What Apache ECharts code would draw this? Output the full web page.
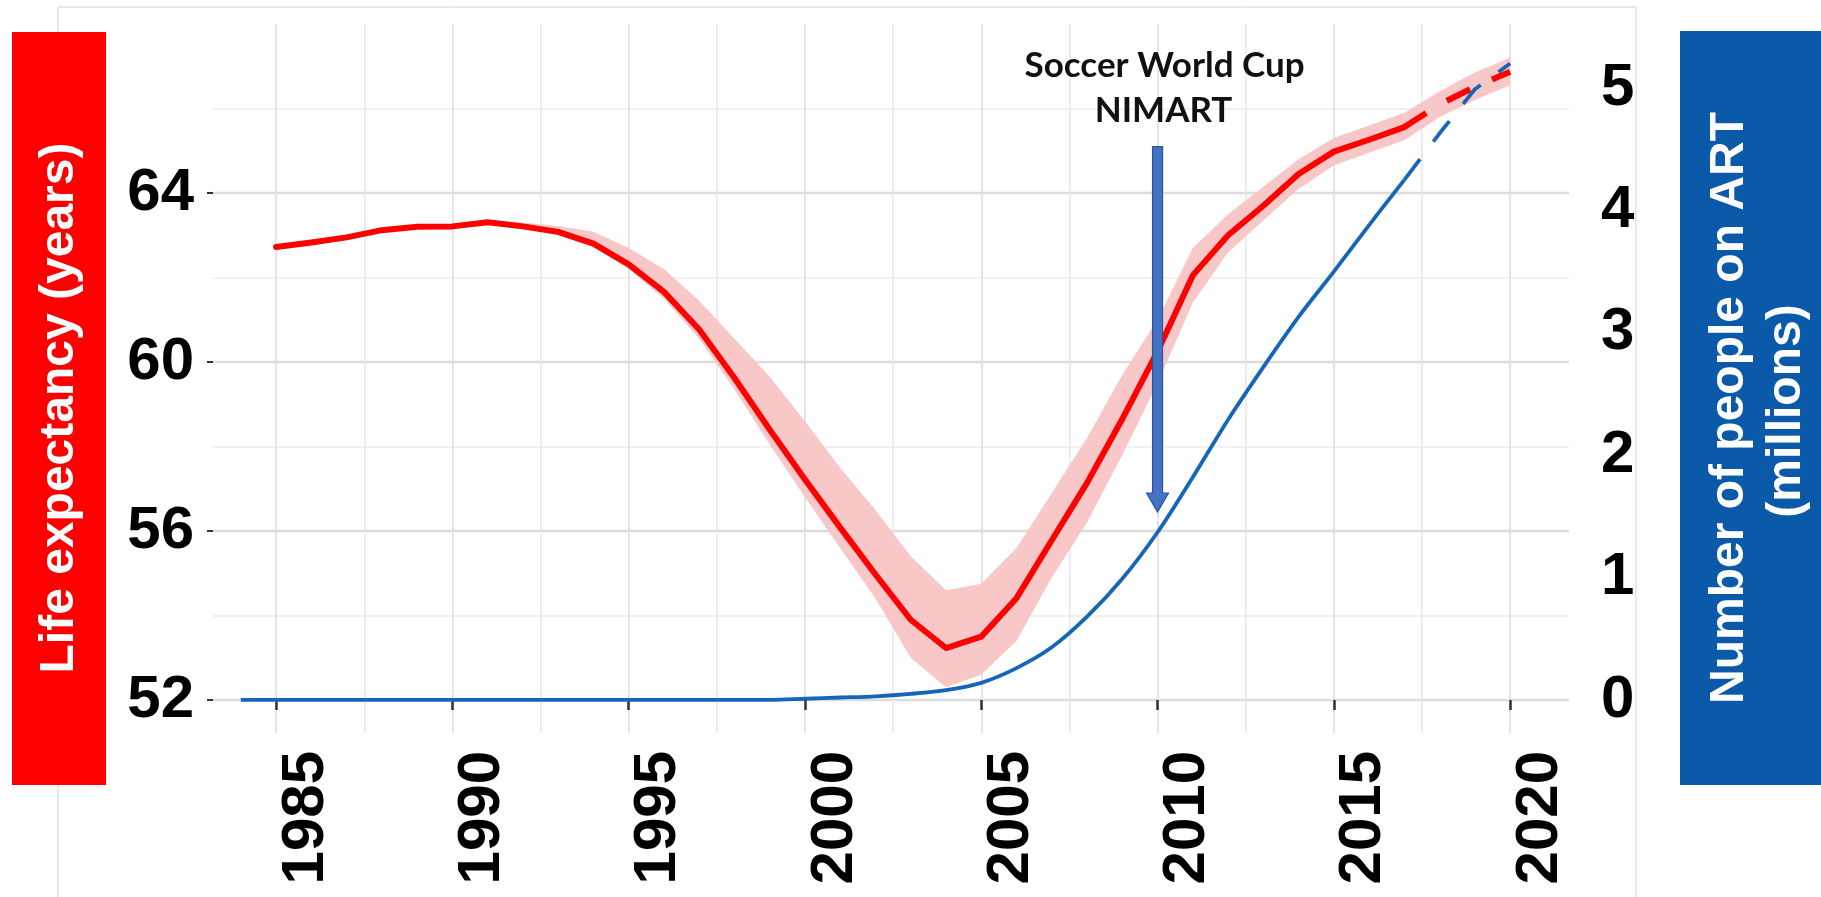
<!DOCTYPE html>
<html>
<head>
<meta charset="utf-8">
<script src="https://cdn.jsdelivr.net/npm/echarts@6/dist/echarts.min.js"></script>
<style>
html,body{margin:0;padding:0;background:#fff;}
#c{width:1821px;height:897px;}
</style>
</head>
<body>
<div id="c"></div>
<script>
// ---------- data ----------
const leYears = [1985,1986,1987,1988,1989,1990,1991,1992,1993,1994,1995,1996,1997,1998,1999,2000,2001,2002,2003,2004,2005,2006,2007,2008,2009,2010,2011,2012,2013,2014,2015,2016,2017,2018,2019,2020];
const leValues = [62.72,62.83,62.95,63.12,63.20,63.21,63.31,63.21,63.08,62.80,62.31,61.66,60.77,59.62,58.40,57.22,56.08,54.97,53.90,53.23,53.50,54.41,55.78,57.14,58.65,60.25,62.05,63.00,63.70,64.45,64.98,65.26,65.56,66.10,66.51,66.87];
const leLower = [62.67,62.78,62.90,63.07,63.15,63.16,63.26,63.15,63.00,62.72,62.20,61.50,60.55,59.35,58.05,56.80,55.60,54.40,53.00,52.30,52.60,53.40,54.90,56.20,57.80,59.50,61.40,62.60,63.35,64.10,64.65,64.95,65.25,65.80,66.20,66.55];
const leUpper = [62.77,62.88,63.00,63.17,63.25,63.26,63.36,63.30,63.22,63.08,62.70,62.20,61.45,60.55,59.65,58.60,57.50,56.50,55.40,54.60,54.75,55.60,56.90,58.20,59.70,61.00,62.70,63.50,64.15,64.80,65.30,65.60,65.90,66.40,66.85,67.20];
const artYears = [1984,1985,1986,1987,1988,1989,1990,1991,1992,1993,1994,1995,1996,1997,1998,1999,2000,2001,2002,2003,2004,2005,2006,2007,2008,2009,2010,2011,2012,2013,2014,2015,2016,2017,2018,2019,2020];
const artValues = [0,0,0,0,0,0,0,0,0,0,0,0,0,0,0,0,0.01,0.02,0.03,0.05,0.08,0.14,0.26,0.43,0.68,0.99,1.37,1.82,2.29,2.72,3.13,3.50,3.88,4.25,4.63,4.99,5.20];
const projectionFromYear = 2017;
const xTickYears = [1985,1990,1995,2000,2005,2010,2015,2020];
const leTicks = [52,56,60,64];
const leMinorTicks = [54,58,62,66];
const artTicks = [0,1,2,3,4,5];
const leftTitle = 'Life expectancy (years)';
const rightTitle1 = 'Number of people on ART';
const rightTitle2 = '(millions)';
const noteLine1 = 'Soccer World Cup';
const noteLine2 = 'NIMART';
const noteYear = 2010;
const arrowTopLE = 65.1;
const arrowHeadLE = 56.9;
const arrowTipLE = 56.45;

// ---------- build ----------
const pair = (xs, ys) => xs.map((x, i) => [x, ys[i]]);
const leData = pair(leYears, leValues);
const artData = pair(artYears, artValues);
const bandData = leYears.map((x, i) => [x, leLower[i], leUpper[i]]);

const FONT = '"Liberation Sans", Arial, sans-serif';
const RED = '#FF0000';
const BLUE = '#1565B8';
const isTick = (v, arr) => Math.abs(v - Math.round(v)) < 1e-6 && arr.includes(Math.round(v));

const chart = echarts.init(document.getElementById('c'), null, {renderer: 'canvas'});

const option = {
  animation: false,
  backgroundColor: '#ffffff',
  grid: {left: 213, right: 252, top: 24, bottom: 164, containLabel: false, outerBoundsMode: 'none'},
  xAxis: [{
    type: 'value', min: 1983.21, max: 2021.67, splitNumber: 8,
    axisLine: {show: false},
    axisTick: {show: true, length: 10, customValues: xTickYears, lineStyle: {color: '#333', width: 2.5}},
    axisLabel: {
      customValues: xTickYears, rotate: 90, margin: 18, verticalAlign: 'top',
      fontSize: 60, fontWeight: 'bold', fontFamily: FONT, color: '#000',
      formatter: v => isTick(v, xTickYears) ? String(Math.round(v)) : ''
    },
    splitLine: {show: true, lineStyle: {color: '#e2e2e2', width: 1.8}},
    minorTick: {show: false, splitNumber: 2},
    minorSplitLine: {show: true, lineStyle: {color: '#e9e9e9', width: 1.6}}
  }],
  yAxis: [{
    type: 'value', position: 'left', min: 51.219, max: 68, splitNumber: 8,
    axisLine: {show: false},
    axisTick: {show: true, length: 6, customValues: leTicks, lineStyle: {color: '#333', width: 2}},
    axisLabel: {
      customValues: leTicks, margin: 19,
      fontSize: 60, fontWeight: 'bold', fontFamily: FONT, color: '#000',
      formatter: v => isTick(v, leTicks) ? String(Math.round(v)) : ''
    },
    splitLine: {show: true, lineStyle: {color: '#dcdcdc', width: 2.4}}
  }, {
    type: 'value', position: 'right', min: -0.27, max: 5.523, splitNumber: 6,
    axisLine: {show: false},
    axisTick: {show: false},
    axisLabel: {
      customValues: artTicks, margin: 32,
      fontSize: 60, fontWeight: 'bold', fontFamily: FONT, color: '#000',
      formatter: v => isTick(v, artTicks) ? String(Math.round(v)) : ''
    },
    splitLine: {show: false}
  }, {
    type: 'value', position: 'left', min: 51.219, max: 68, splitNumber: 8,
    axisLine: {show: false},
    axisTick: {show: false, customValues: leMinorTicks},
    axisLabel: {show: false},
    splitLine: {show: true, lineStyle: {color: '#ececec', width: 1.5}}
  }],
  series: [
    {name: 'ci', type: 'custom', yAxisIndex: 0, data: bandData, silent: true, z: 1,
      encode: {x: 0, y: [1, 2]},
      renderItem: function (params, api) {
        if (params.dataIndex !== 0) return null;
        const pts = [];
        for (let i = 0; i < bandData.length; i++) pts.push(api.coord([bandData[i][0], bandData[i][1]]));
        for (let i = bandData.length - 1; i >= 0; i--) pts.push(api.coord([bandData[i][0], bandData[i][2]]));
        return {type: 'polygon', shape: {points: pts}, style: {fill: '#F8C8C8'}};
      }},
    {name: 'leSolid', type: 'line', yAxisIndex: 0, data: leData.filter(d => d[0] <= projectionFromYear), symbol: 'none',
      lineStyle: {color: RED, width: 6, join: 'round', cap: 'round'}, z: 3},
    {name: 'leProj', type: 'line', yAxisIndex: 0, data: leData.filter(d => d[0] >= projectionFromYear), symbol: 'none',
      lineStyle: {color: RED, width: 6, type: [26, 24]}, z: 3},
    {name: 'artSolid', type: 'line', yAxisIndex: 1, data: artData.filter(d => d[0] <= projectionFromYear), symbol: 'none',
      smooth: 0.3, lineStyle: {color: BLUE, width: 3.8}, z: 4},
    {name: 'artProj', type: 'line', yAxisIndex: 1, data: artData.filter(d => d[0] >= projectionFromYear), symbol: 'none',
      lineStyle: {color: BLUE, width: 3.8, type: [26, 22]}, z: 4}
  ]
};
chart.setOption(option);

// annotation positions through the chart scales
const ax = chart.convertToPixel({xAxisIndex: 0}, noteYear);
const yTop = chart.convertToPixel({yAxisIndex: 0}, arrowTopLE);
const yHead = chart.convertToPixel({yAxisIndex: 0}, arrowHeadLE);
const yTip = chart.convertToPixel({yAxisIndex: 0}, arrowTipLE);
const sw = 5, hw = 11;

chart.setOption({
  graphic: [
    {type: 'rect', silent: true, z: -1, shape: {x: 58, y: 7, width: 1578, height: 900},
      style: {fill: 'none', stroke: '#d2d2d2', lineWidth: 1}},
    {type: 'rect', silent: true, shape: {x: 12, y: 32, width: 94, height: 753}, style: {fill: '#FE0000'}},
    {type: 'text', silent: true, x: 60, y: 408, rotation: Math.PI / 2,
      style: {text: leftTitle, fill: '#fff', font: 'bold 48px ' + FONT, align: 'center', verticalAlign: 'middle'}},
    {type: 'rect', silent: true, shape: {x: 1680, y: 31, width: 150, height: 754}, style: {fill: '#0B59A9'}},
    {type: 'text', silent: true, x: 1730, y: 408, rotation: Math.PI / 2,
      style: {text: rightTitle1, fill: '#fff', font: 'bold 48px ' + FONT, align: 'center', verticalAlign: 'middle'}},
    {type: 'text', silent: true, x: 1787, y: 411, rotation: Math.PI / 2,
      style: {text: rightTitle2, fill: '#fff', font: 'bold 48px ' + FONT, align: 'center', verticalAlign: 'middle'}},
    {type: 'text', silent: true, x: ax + 7, y: 66,
      style: {text: noteLine1, fill: '#111', font: 'bold 35px Lato, "Open Sans", sans-serif', align: 'center', verticalAlign: 'middle'}},
    {type: 'text', silent: true, x: ax + 6, y: 111,
      style: {text: noteLine2, fill: '#111', font: 'bold 35px Lato, "Open Sans", sans-serif', align: 'center', verticalAlign: 'middle'}},
    {type: 'polygon', silent: true, z: 10,
      shape: {points: [[ax - sw, yTop], [ax + sw, yTop], [ax + sw, yHead], [ax + hw, yHead], [ax, yTip], [ax - hw, yHead], [ax - sw, yHead]]},
      style: {fill: '#4472C4', stroke: '#2F5597', lineWidth: 1.2}}
  ]
});
</script>
</body>
</html>
